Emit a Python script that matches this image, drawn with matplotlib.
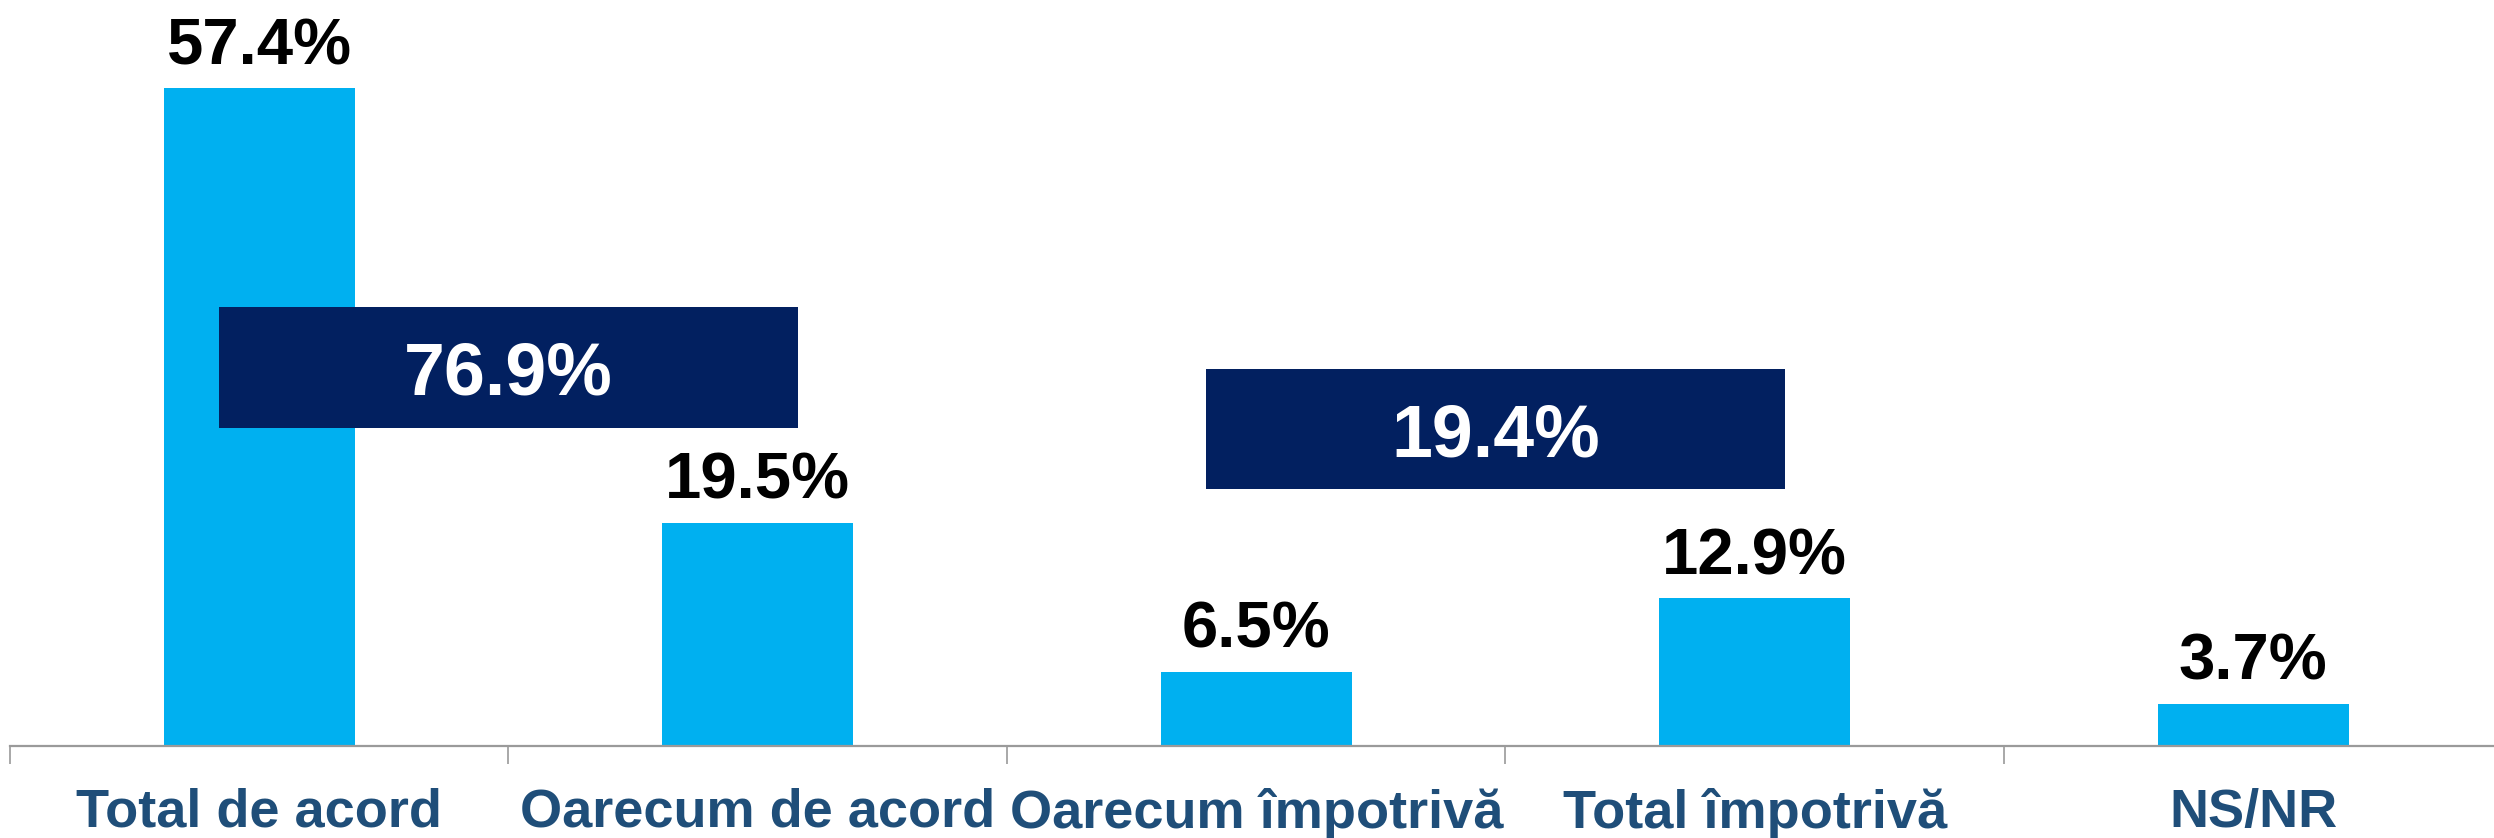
import matplotlib
matplotlib.use("Agg")
import matplotlib.pyplot as plt
from matplotlib.patches import Rectangle

categories = ["Total de acord", "Oarecum de acord", "Oarecum împotrivă", "Total împotrivă", "NS/NR"]
values = [57.4, 19.5, 6.5, 12.9, 3.7]
box_labels = ["76.9%", "19.4%"]

plt.rcParams['font.family'] = ['Liberation Sans', 'DejaVu Sans']

W, H, DPI = 2494, 838, 100
fig = plt.figure(figsize=(W / DPI, H / DPI), dpi=DPI)
ax = fig.add_axes([10 / W, 92 / H, 1 - 10 / W, 1 - 92 / H])

x = list(range(len(categories)))
ax.bar(x, values, width=0.383, color='#00B0F0', zorder=2)
ax.set_xlim(-0.5, 4.483)
ax.set_ylim(0, 65.1)

for xi, v in zip(x, values):
    ax.annotate(f"{v:.1f}%", (xi, v), xytext=(0, 17), textcoords='offset points',
                ha='center', va='baseline', fontsize=47, fontweight='bold', color='black', zorder=4)

# summary boxes (x center in category units, y range in data units)
boxes = [(0.5, 27.75, 38.3), (2.48, 22.4, 32.9)]
for (cx, y0, y1), lab in zip(boxes, box_labels):
    hw = 0.581
    ax.add_patch(Rectangle((cx - hw, y0), 2 * hw, y1 - y0, facecolor='#022060',
                           edgecolor='none', zorder=3))
    ax.text(cx, (y0 + y1) / 2, lab, ha='center', va='center_baseline', fontsize=53,
            fontweight='bold', color='white', zorder=5)

for s in ['top', 'right', 'left']:
    ax.spines[s].set_visible(False)
ax.spines['bottom'].set_color('#9a9a9a')
ax.spines['bottom'].set_linewidth(1.6)
ax.set_yticks([])
ax.set_xticks(x)
ax.set_xticklabels(categories, fontsize=39, fontweight='bold', color='#1F4E79')
ax.tick_params(axis='x', which='major', length=0, pad=30)
ax.set_xticks([i - 0.5 for i in range(len(categories))], minor=True)
ax.tick_params(axis='x', which='minor', length=13, width=1.2, color='#9a9a9a')

fig.savefig("out.png", dpi=DPI)
